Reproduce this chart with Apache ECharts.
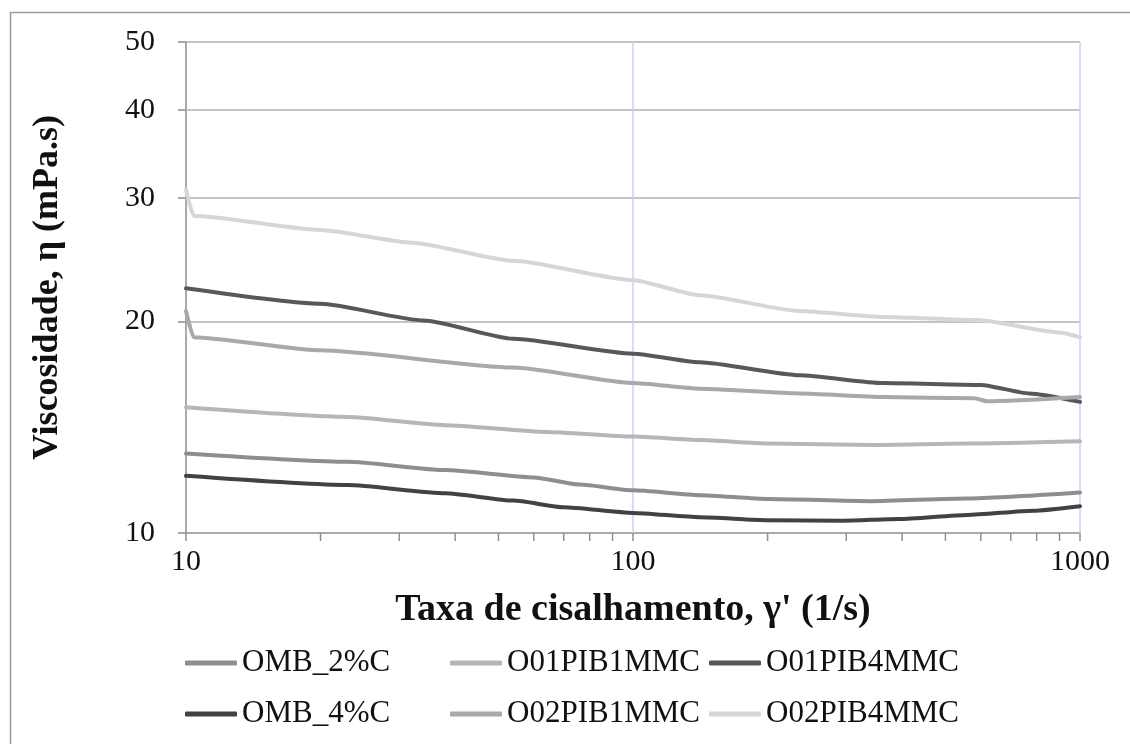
<!DOCTYPE html>
<html>
<head>
<meta charset="utf-8">
<script src="https://cdn.jsdelivr.net/npm/echarts@6/dist/echarts.min.js"></script>
<style>
html,body{margin:0;padding:0;background:#fff;}
#chart{width:1130px;height:744px;}
</style>
</head>
<body>
<div id="chart"></div>
<script>
// ---- data (shear rate [1/s], viscosity [mPa.s]) ----
const seriesNames = ['OMB_2%C', 'O01PIB1MMC', 'O01PIB4MMC', 'OMB_4%C', 'O02PIB1MMC', 'O02PIB4MMC'];
const omb2 = [[10,12.98],[23,12.63],[38,12.29],[60,12.0],[76,11.72],[100,11.5],[141,11.32],[200,11.18],[340,11.1],[560,11.2],[1000,11.42]];
const o01pib1 = [[10,15.1],[23,14.63],[38,14.24],[64,13.93],[100,13.72],[141,13.56],[200,13.41],[344,13.34],[560,13.41],[1000,13.51]];
const o01pib4 = [[10,22.3],[20,21.2],[34,20.07],[54,18.9],[100,18.0],[141,17.5],[236,16.77],[362,16.35],[600,16.25],[770,15.8],[1000,15.37]];
const omb4 = [[10,12.06],[23,11.7],[38,11.39],[54,11.12],[70,10.88],[100,10.68],[141,10.53],[200,10.43],[295,10.41],[395,10.47],[560,10.61],[785,10.76],[1000,10.92]];
const o02pib1 = [[10,20.7],[10.4,19.0],[20,18.2],[54,17.2],[100,16.35],[141,16.05],[236,15.8],[362,15.62],[580,15.55],[620,15.4],[1000,15.62]];
const o02pib4 = [[10,30.8],[10.4,28.3],[20,27.0],[32,25.9],[54,24.4],[100,22.9],[141,21.8],[236,20.7],[362,20.3],[590,20.1],[900,19.3],[1000,19.0]];
const seriesData = [omb2, o01pib1, o01pib4, omb4, o02pib1, o02pib4];
const seriesColors = ['#8e8e90', '#b6b6b8', '#58585a', '#424244', '#a9a9ac', '#d6d6d8'];
const yTicks = [10, 20, 30, 40, 50];
const yGrid = [20, 30, 40, 50];
const xGrid = [100, 1000];
const xMinorTicks = [20,30,40,50,60,70,80,90,200,300,400,500,600,700,800,900];

const FONT = '"Liberation Serif", "Times New Roman", serif';
const chart = echarts.init(document.getElementById('chart'));

const series = seriesNames.map((n, i) => ({
  name: n, type: 'line', data: seriesData[i], showSymbol: false, symbol: 'none',
  smooth: 0.2, smoothMonotone: 'x',
  lineStyle: {width: 4, color: seriesColors[i], cap: 'round', join: 'round'},
  itemStyle: {color: seriesColors[i]}, z: 5
}));

series.unshift({
  type: 'line', data: [], silent: true, z: 1,
  markLine: {
    silent: true, symbol: 'none', label: {show: false}, animation: false,
    data: yGrid.map(v => ({yAxis: v, lineStyle: {color: '#b0b0b2', width: 1.5, type: 'solid'}}))
      .concat(xGrid.map(v => ({xAxis: v, lineStyle: {color: '#c4d4ee', width: 1.5, type: 'solid'}})))
  }
});

series.push({
  type: 'custom', silent: true, z: 2, clip: false,
  data: xMinorTicks.map(v => [v, 10]),
  renderItem: (params, api) => {
    const p = api.coord([api.value(0), api.value(1)]);
    return {type: 'line', shape: {x1: p[0], y1: p[1], x2: p[0], y2: p[1] + 8},
      style: {stroke: '#8e8e90', lineWidth: 1.5}};
  }
});

const legendCols = [[0, 3], [1, 4], [2, 5]];
const legendLeft = [180, 445, 704];

chart.setOption({
  animation: false,
  backgroundColor: '#fff',
  graphic: [{type: 'rect', left: 8, top: 10, shape: {width: 1140, height: 760},
    style: {fill: 'none', stroke: '#9a9a9c', lineWidth: 1.5}, silent: true}],
  grid: {left: 186, right: 50, top: 42, bottom: 211, containLabel: false},
  xAxis: {
    type: 'log', logBase: 10, min: 10, max: 1000,
    name: "Taxa de cisalhamento, γ' (1/s)", nameLocation: 'middle', nameGap: 58,
    nameTextStyle: {fontFamily: FONT, fontWeight: 'bold', fontSize: 38, color: '#111'},
    axisLine: {lineStyle: {color: '#8e8e90', width: 1.5}},
    axisTick: {show: true, inside: false, length: 8, lineStyle: {color: '#8e8e90', width: 1.5}},
    axisLabel: {fontFamily: FONT, fontSize: 30, color: '#111', margin: 14, formatter: v => String(v)},
    splitLine: {show: false}, minorTick: {show: false}
  },
  yAxis: {
    type: 'log', logBase: 10, min: 10, max: 50,
    name: 'Viscosidade, η (mPa.s)', nameLocation: 'middle', nameGap: 120,
    nameTextStyle: {fontFamily: FONT, fontWeight: 'bold', fontSize: 36, color: '#111'},
    axisLine: {show: true, lineStyle: {color: '#8e8e90', width: 1.5}},
    axisTick: {show: true, length: 8, customValues: yTicks, lineStyle: {color: '#8e8e90', width: 1.5}},
    axisLabel: {fontFamily: FONT, fontSize: 30, color: '#111', margin: 31, customValues: yTicks, formatter: v => String(v)},
    splitLine: {show: false}
  },
  legend: legendCols.map((idx, c) => ({
    orient: 'vertical', left: legendLeft[c], top: 642,
    data: idx.map(i => seriesNames[i]),
    icon: 'roundRect', itemWidth: 52, itemHeight: 5, itemGap: 19,
    textStyle: {fontFamily: FONT, fontSize: 31, color: '#111', lineHeight: 32},
    selectedMode: false
  })),
  series: series
});
</script>
</body>
</html>
